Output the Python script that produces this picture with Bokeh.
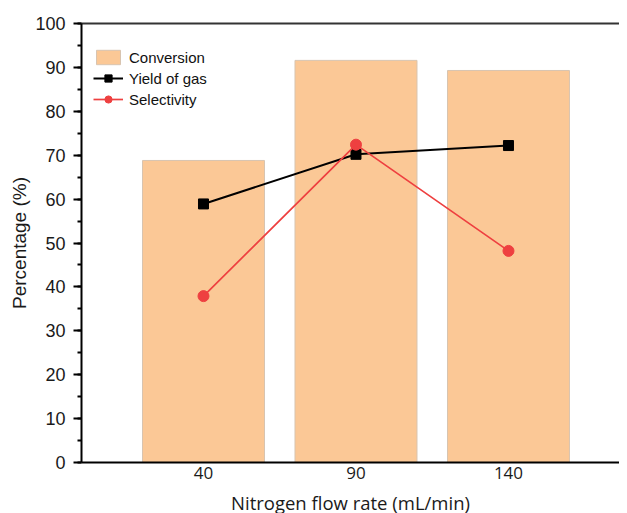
from bokeh.plotting import figure
from bokeh.models import Range1d, LinearAxis, SingleIntervalTicker, FixedTicker, Legend, LegendItem
from bokeh.embed import file_html
from bokeh.resources import INLINE

flow = [40, 90, 140]
conversion = [68.8, 91.6, 89.3]
yield_gas = [58.9, 70.2, 72.2]
selectivity = [37.9, 72.4, 48.2]
x_tick_values = [40, 90, 140]

p = figure(frame_width=538, frame_height=439, output_backend="svg", toolbar_location=None,
           x_range=Range1d(0, 176.4), y_range=Range1d(0, 100),
           min_border_left=81, min_border_right=0, min_border_top=23, min_border_bottom=51)
p.outline_line_color = None
p.xgrid.visible = False
p.ygrid.visible = False

bars = p.vbar(x=flow, top=conversion, width=40, fill_color="#FBC896", line_color="#D8C4B0", line_width=1)
l1 = p.line(flow, yield_gas, line_color="black", line_width=2)
s1 = p.scatter(flow, yield_gas, marker="square", size=10, fill_color="black", line_color="black")
l2 = p.line(flow, selectivity, line_color="#EE4040", line_width=1.7)
s2 = p.scatter(flow, selectivity, marker="circle", size=11, fill_color="#EE4040", line_color="#EE4040")

xa = p.xaxis[0]
xa.ticker = FixedTicker(ticks=x_tick_values)
xa.major_tick_line_color = None
xa.minor_tick_line_color = None
xa.major_tick_out = 0
xa.axis_line_width = 2
xa.axis_line_color = "black"
xa.major_label_text_font = "Open Sans"
xa.major_label_text_font_size = "17px"
xa.major_label_text_color = "#1a1a1a"
xa.major_label_standoff = 4
xa.axis_label = "Nitrogen flow rate (mL/min)"
xa.axis_label_text_font = "Open Sans"
xa.axis_label_text_font_size = "18.5px"
xa.axis_label_text_font_style = "normal"
xa.axis_label_text_color = "#1a1a1a"
xa.axis_label_standoff = 8

ya = p.yaxis[0]
ya.ticker = SingleIntervalTicker(interval=10, num_minor_ticks=2)
ya.major_tick_out = 8
ya.major_tick_in = 0
ya.minor_tick_out = 4
ya.minor_tick_in = 0
ya.major_tick_line_width = 2
ya.minor_tick_line_width = 2
ya.axis_line_width = 2
ya.axis_line_color = "black"
ya.major_label_text_font = "Liberation Sans"
ya.major_label_text_font_size = "18px"
ya.major_label_text_color = "#1a1a1a"
ya.major_label_standoff = 8
ya.axis_label = "Percentage (%)"
ya.axis_label_text_font = "Liberation Sans"
ya.axis_label_text_font_size = "19px"
ya.axis_label_text_font_style = "normal"
ya.axis_label_text_color = "#1a1a1a"
ya.axis_label_standoff = 2

top = LinearAxis(ticker=FixedTicker(ticks=[]), axis_line_width=2, axis_line_color="#333333",
                 major_label_text_font_size="0px", major_tick_line_color=None, minor_tick_line_color=None)
p.add_layout(top, "above")

legend = Legend(items=[
    LegendItem(label="Conversion", renderers=[bars]),
    LegendItem(label="Yield of gas", renderers=[l1, s1]),
    LegendItem(label="Selectivity", renderers=[l2, s2]),
], location=(12, 354))
legend.border_line_color = None
legend.background_fill_alpha = 0
legend.margin = 0
legend.padding = 0
legend.spacing = 3
legend.glyph_width = 30
legend.glyph_height = 18
legend.label_height = 18
legend.label_standoff = 6
legend.label_text_font = "Liberation Sans"
legend.label_text_font_size = "15px"
legend.label_text_color = "#111111"
p.add_layout(legend, "center")

open("out.html", "w").write(file_html(p, INLINE))
